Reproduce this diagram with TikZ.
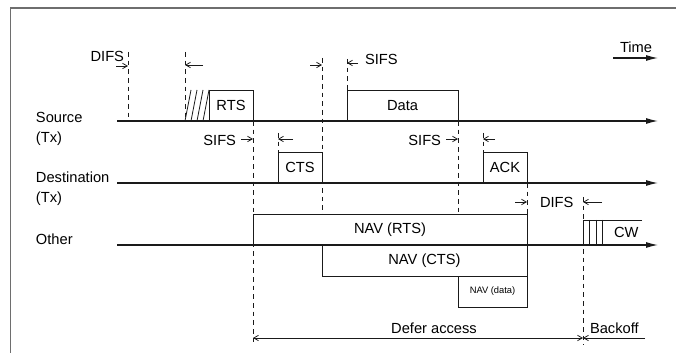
\documentclass[tikz,border=0pt]{standalone}
\usepackage{fontspec}
\setmainfont{Liberation Sans}
\usetikzlibrary{positioning,calc,arrows.meta}

\begin{document}
\begin{tikzpicture}[x=0.75pt,y=-0.75pt,font=\fontsize{11}{13}\selectfont]
    \def\myunit{0.75pt}
    \definecolor{colframe}{HTML}{6e6e6e}
    \definecolor{colline}{HTML}{1a1a1a}
    \tikzstyle{axis}=[colline,line width=0.9pt,-{Latex[length=9pt,width=4.5pt]}]
    \tikzstyle{tick}=[colline,line width=0.6pt,dash pattern=on 3.5pt off 3pt]
    \tikzstyle{gap}=[colline,line width=0.6pt,-{Straight Barb[length=3.5pt,width=4pt]}]
    \tikzstyle{frame}=[draw=colline,line width=0.7pt,inner sep=0pt,outer sep=0pt,
                       anchor=south west,minimum height=31*\myunit]
    \tikzstyle{lbl}=[inner sep=0pt,outer sep=0pt]
    \useasboundingbox (0,0) rectangle (676,353);
    % border
    \draw[colframe,line width=1.2pt] (10.5,353) -- (10.5,8) -- (676,8);
    % time lines
    \coordinate (srcA) at (117,121);  \coordinate (srcB) at (658,121);
    \coordinate (dstA) at (117,183);  \coordinate (dstB) at (658,183);
    \coordinate (othA) at (117,245);  \coordinate (othB) at (658,245);
    \coordinate (bot) at (0,345);
    \draw[axis] (srcA) -- (srcB);
    \draw[axis] (dstA) -- (dstB);
    \draw[axis] (othA) -- (othB);
    \node[lbl,anchor=base west] (time) at (620,53) {Time};
    \draw[axis] (613,58) -- (658,58);
    % station names
    \node[lbl,anchor=base west] (src)   at (36,123) {Source};
    \node[lbl,anchor=base west] (srctx) at (36,143) {(Tx)};
    \node[lbl,anchor=base west] (dst)   at (36,183) {Destination};
    \node[lbl,anchor=base west] (dsttx) at (36,203) {(Tx)};
    \node[lbl,anchor=base west] (oth)   at (36,245) {Other};
    % frames
    \node[frame,minimum width=44*\myunit] (RTS) at (209,121) {RTS};
    \node[frame,minimum width=44*\myunit] (CTS) at (278,183) {CTS};
    \node[frame,minimum width=111*\myunit] (Data) at (347,121) {Data};
    \node[frame,minimum width=44*\myunit] (ACK) at (483,183) {ACK};
    \node[frame,minimum width=274*\myunit] (NAVrts) at (253,245) {NAV (RTS)};
    \node[frame,minimum width=205*\myunit] (NAVcts) at (322,276) {NAV (CTS)};
    \node[frame,minimum width=69*\myunit,font=\fontsize{7}{8}\selectfont] (NAVdata) at (458,307) {NAV (data)};
    % backoff slots before RTS
    \foreach \i in {0,...,3}
        \draw[colline,line width=0.6pt] (185+6*\i,121) -- (191+6*\i,90);
    % contention window
    \draw[colline,line width=0.7pt] (642,220) -- (583,220) -- (583,245);
    \foreach \x in {589.5,596,602}
        \draw[colline,line width=0.6pt] (\x,220) -- (\x,245);
    \node[lbl,anchor=base west] (cw) at (614,238) {CW};
    % dashed time marks
    \draw[tick] (128,52) -- (128,121);
    \draw[tick] (185,52) -- (185,121);
    \draw[tick] (RTS.south east) -- (RTS.south east |- bot);
    \draw[tick] (CTS.north east |- 0,58) -- (CTS.north east |- NAVrts.north);
    \draw[tick] (Data.north west |- 0,59) -- (Data.north west);
    \draw[tick] (Data.south east) -- (Data.south east |- NAVrts.north);
    \draw[tick] (CTS.north west |- 0,133) -- (CTS.north west);
    \draw[tick] (ACK.north west |- 0,133) -- (ACK.north west);
    \draw[tick] (ACK.south east) -- (NAVrts.north east);
    \draw[tick] (583,197) -- (583,345);
    % interframe spaces
    \node[lbl,anchor=base east] (difsA) at (124,62) {DIFS};
    \draw[gap] (116,66) -- (128,66);
    \draw[gap] (203,65) -- (185,65);
    \draw[gap] (310,65) -- (CTS.north east |- 0,65);
    \draw[gap] (358,63) -- (Data.north west |- 0,63);
    \node[lbl,anchor=base west] (sifsA) at (365,65) {SIFS};
    \node[lbl,anchor=base east] (sifsB) at (236,146) {SIFS};
    \draw[gap] (241,139) -- (RTS.south east |- 0,139);
    \draw[gap] (293,139) -- (CTS.north west |- 0,139);
    \node[lbl,anchor=base east] (sifsC) at (441,146) {SIFS};
    \draw[gap] (446,139) -- (Data.south east |- 0,139);
    \draw[gap] (495,139) -- (ACK.north west |- 0,139);
    \draw[gap] (515,202) -- (ACK.south east |- 0,202);
    \node[lbl,anchor=base west] (difsB) at (540,208) {DIFS};
    \draw[gap] (602,202) -- (583,202);
    % defer and backoff
    \draw[gap,{Straight Barb[length=3.5pt,width=4pt]}-{Straight Barb[length=3.5pt,width=4pt]}]
        (RTS.south east |- 0,338) -- (583,338);
    \draw[gap] (645,338) -- (583,338);
    \node[lbl,anchor=base] (defer) at (434,333) {Defer access};
    \node[lbl,anchor=base west] (backoff) at (590,333) {Backoff};
\end{tikzpicture}
\end{document}
